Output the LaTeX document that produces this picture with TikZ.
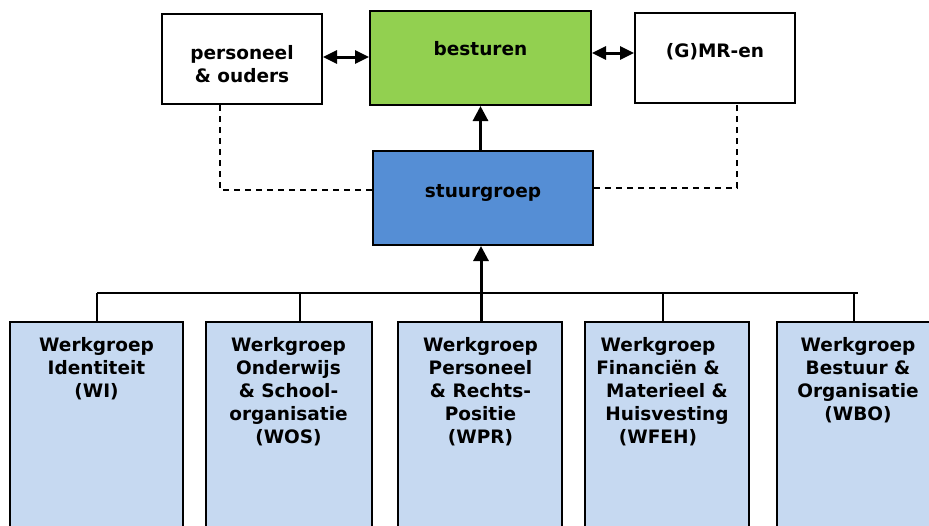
\documentclass[tikz,border=0pt]{standalone}
\usepackage{fontspec}
\setmainfont{DejaVu Sans}
\usetikzlibrary{arrows.meta}
\definecolor{bestgreen}{HTML}{92D050}
\definecolor{stuurblue}{HTML}{558ED5}
\definecolor{wgblue}{HTML}{C6D9F1}
\begin{document}
\begin{tikzpicture}[x=1pt,y=-1pt,
  box/.style={draw=black, line width=2pt, inner sep=0pt},
  wbox/.style={box, fill=wgblue, minimum height=226pt, anchor=north},
  lbl/.style={font=\bfseries\fontsize{18.5}{23}\selectfont, inner sep=0pt, anchor=base},
  conn/.style={line width=2pt},
  arr/.style={line width=3pt, -{Triangle[length=15pt,width=15pt]}},
  dbl/.style={line width=3pt, {Triangle[length=14pt,width=13pt]}-{Triangle[length=14pt,width=13pt]}},
  dsh/.style={line width=1.6pt, dash pattern=on 6pt off 5pt}
]
\clip (0,0) rectangle (929,525);
\fill[white] (0,0) rectangle (929,525);
% top boxes
\node[box, minimum width=160pt, minimum height=90pt] (pers) at (242,59) {};
\node[box, fill=bestgreen, minimum width=221pt, minimum height=94pt] (best) at (480.5,58) {};
\node[box, minimum width=160pt, minimum height=90pt] (gmr) at (715,58) {};
\node[box, fill=stuurblue, minimum width=220pt, minimum height=94pt] (stuur) at (483,198) {};
\node[lbl] (persT) at (242,59) {\begin{tabular}[t]{@{}c@{}}personeel\\\& ouders\end{tabular}};
\node[lbl] (bestT) at (480.5,55) {besturen};
\node[lbl] (gmrT) at (715,57) {(G)MR-en};
\node[lbl] (stuurT) at (483,197) {stuurgroep};
% working groups
\node[wbox, minimum width=173pt] (w1) at (96.5,321) {};
\node[wbox, minimum width=166pt] (w2) at (289,321) {};
\node[wbox, minimum width=164pt] (w3) at (480,321) {};
\node[wbox, minimum width=164pt] (w4) at (667,321) {};
\node[wbox, minimum width=164pt] (w5) at (859,321) {};
\node[lbl] (w1T) at (96.5,351) {\begin{tabular}[t]{@{}c@{}}Werkgroep\\Identiteit\\(WI)\end{tabular}};
\node[lbl] (w2T) at (288.5,351) {\begin{tabular}[t]{@{}c@{}}Werkgroep\\Onderwijs\\\& School-\\organisatie\\(WOS)\end{tabular}};
\node[lbl] (w3T) at (480.5,351) {\begin{tabular}[t]{@{}c@{}}Werkgroep\\Personeel\\\& Rechts-\\Positie\\(WPR)\end{tabular}};
\node[lbl] (w4T) at (662.5,351) {\begin{tabular}[t]{@{}c@{}}Werkgroep\kern9pt\\Financiën \&\kern9pt\\\kern9pt Materieel \&\\\kern9pt Huisvesting\\(WFEH)\kern9pt\end{tabular}};
\node[lbl] (w5T) at (858,351) {\begin{tabular}[t]{@{}c@{}}Werkgroep\\Bestuur \&\\Organisatie\\(WBO)\end{tabular}};
% connectors top
\draw[dbl] ([yshift=2pt]pers.east) -- ([yshift=2pt]pers.east -| best.west);
\draw[dbl] ([yshift=5pt]best.east) -- ([yshift=5pt]best.east -| gmr.west);
\draw[arr] (best.south |- stuur.north) -- (best.south);
% dashed links
\coordinate (dL) at (220,190);
\coordinate (dR) at (737,188);
\draw[dsh] (dL |- pers.south) -- (dL) -- (dL -| stuur.west);
\draw[dsh] (stuur.east |- dR) -- (dR) -- (dR |- gmr.south);
% bus
\coordinate (t1) at (97,293);
\coordinate (t2) at (300,293);
\coordinate (t3) at (481,293);
\coordinate (t4) at (663,293);
\coordinate (t5) at (854,293);
\coordinate (tE) at (858,293);
\draw[conn] (t1) -- (tE);
\draw[conn] (t1) -- (t1 |- w1.north);
\draw[conn] (t2) -- (t2 |- w2.north);
\draw[conn] (t4) -- (t4 |- w4.north);
\draw[conn] (t5) -- (t5 |- w5.north);
\draw[arr] (t3 |- w3.north) -- (t3 |- stuur.south);
\end{tikzpicture}
\end{document}
